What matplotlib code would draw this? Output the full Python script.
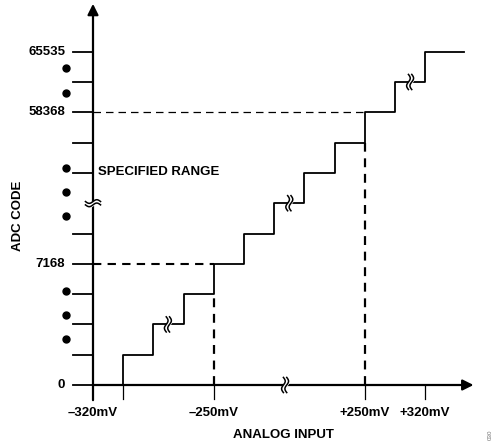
import numpy as np
import matplotlib.pyplot as plt

plt.rcParams['font.family'] = ['Liberation Sans', 'DejaVu Sans']

# transfer function: code level reached at each transition edge (in LSB steps)
edges = [1, 2, 3, 4, 5, 6, 7, 8, 9, 10, 11]
levels = [1, 2, 3, 4, 5, 6, 7, 8, 9, 10, 11]
x_end = 12.3

# labelled codes on the y axis
code_labels = ['0', '7168', '58368', '65535']
code_levels = [0, 4, 9, 11]
ytick_levels = [0, 1, 2, 3, 4, 5, 7, 8, 9, 10, 11]

# labelled inputs on the x axis
input_labels = ['\u2013320mV', '\u2013250mV', '+250mV', '+320mV']
input_pos = [0, 4, 9, 11]
xtick_pos = [0, 1, 4, 9, 11]

# ellipsis dots beside the code axis
dot_levels = [10.46, 9.64, 7.16, 6.37, 5.58, 3.10, 2.31, 1.52]

# range limits
lo_edge, lo_level = 4, 4
hi_edge, hi_level = 9, 9

# break marks
step_breaks = [(2.48, 2), (6.5, 6), (10.5, 10)]
xaxis_break = 6.36
yaxis_break = 6.0

fs = 9.5

fig = plt.figure(figsize=(4.94, 4.47), dpi=100)
ax = fig.add_axes([0, 0, 1, 1])
ax.set_xlim(-93 / 30.2, (494 - 93) / 30.2)
ax.set_ylim(-62 / 30.3, (447 - 62) / 30.3)
ax.axis('off')

# axes with arrows
ax.annotate('', xy=(12.6, 0), xytext=(0, 0),
            arrowprops=dict(arrowstyle='-|>', lw=1.6, color='k',
                            mutation_scale=16, shrinkA=0, shrinkB=0))
ax.annotate('', xy=(0, 12.58), xytext=(0, -0.5),
            arrowprops=dict(arrowstyle='-|>', lw=1.6, color='k',
                            mutation_scale=16, shrinkA=0, shrinkB=0))

# tick marks
for lv in ytick_levels:
    ax.plot([-0.66, 0], [lv, lv], color='k', lw=1.3)
for xp in xtick_pos[1:]:
    ax.plot([xp, xp], [0, -0.46], color='k', lw=0.9)

# staircase
sx = [edges[0]] + edges + [x_end]
sy = [0] + levels + [levels[-1]]
ax.step(sx, sy, where='post', color='k', lw=1.3)

# range markers
ax.plot([0, lo_edge], [lo_level, lo_level], color='k', lw=1.5, ls=(0, (4, 3)))
ax.plot([0, hi_edge], [hi_level, hi_level], color='k', lw=0.9, ls=(0, (6, 4)))
ax.plot([lo_edge, lo_edge], [0, lo_level - 1], color='k', lw=1.6, ls=(0, (4, 3)))
ax.plot([hi_edge, hi_edge], [0, hi_level - 1], color='k', lw=1.6, ls=(0, (4, 3)))

# ellipsis dots
ax.plot([-0.89] * len(dot_levels), dot_levels, 'o', color='k', ms=5)


def vbreak(cx, cy, h=0.25, gap=0.11, amp=0.06):
    t = np.linspace(-1, 1, 40)
    yy = cy + h * t
    xs = amp * np.sin(np.pi * t)
    ax.fill_betweenx(yy, cx - gap / 2 + xs, cx + gap / 2 + xs,
                     color='white', zorder=3)
    for off in (-gap / 2, gap / 2):
        ax.plot(cx + off + xs, yy, color='k', lw=1.1, zorder=4)


def hbreak(cx, cy, w=0.25, gap=0.11, amp=0.06):
    t = np.linspace(-1, 1, 40)
    xx = cx + w * t
    ys = amp * np.sin(np.pi * t)
    ax.fill_between(xx, cy - gap / 2 + ys, cy + gap / 2 + ys,
                    color='white', zorder=3)
    for off in (-gap / 2, gap / 2):
        ax.plot(xx, cy + off + ys, color='k', lw=1.1, zorder=4)


for bx, by in step_breaks:
    vbreak(bx, by)
vbreak(xaxis_break, 0)
hbreak(0, yaxis_break)

# labels
for lab, lv in zip(code_labels, code_levels):
    ax.text(-0.92, lv, lab, ha='right', va='center', fontsize=fs,
            fontweight='bold')
for lab, xp in zip(input_labels, input_pos):
    ax.text(xp, -0.93, lab, ha='center', va='center', fontsize=fs,
            fontweight='bold')

ax.text(0.17, 7.03, 'SPECIFIED RANGE', ha='left', va='center', fontsize=fs,
        fontweight='bold')
ax.text(-2.47, 5.6, 'ADC CODE', ha='center', va='center', rotation=90,
        fontsize=fs, fontweight='bold')
ax.text(6.3, -1.65, 'ANALOG INPUT', ha='center', va='center', fontsize=fs,
        fontweight='bold')
ax.text(13.15, -1.65, '030', ha='center', va='center', rotation=90,
        fontsize=4.5, color='0.45')

fig.savefig('out.png', dpi=100)
